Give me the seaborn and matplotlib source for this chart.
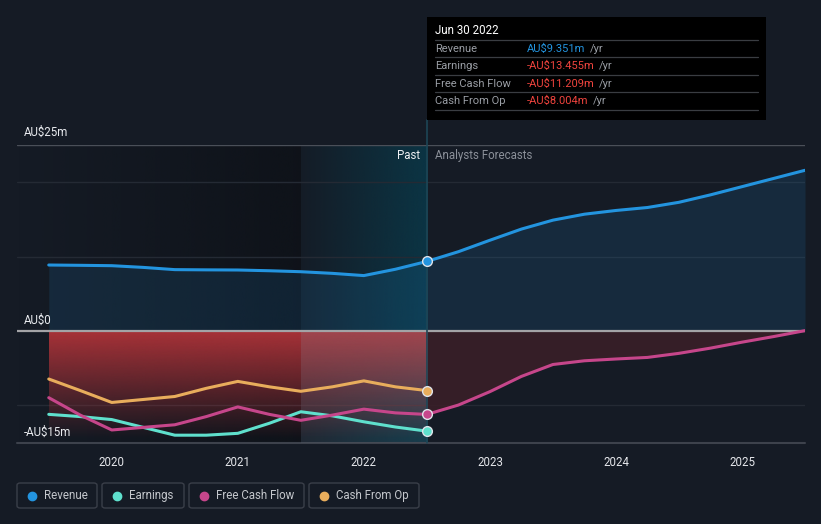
import numpy as np
import pandas as pd
import seaborn as sns
import matplotlib.pyplot as plt
from matplotlib.patches import FancyBboxPatch, Rectangle
from matplotlib.lines import Line2D
from matplotlib.colors import to_rgb

# ---- data (AU$ millions) ----
past_years = [2019.5, 2019.75, 2020.0, 2020.25, 2020.5, 2020.75, 2021.0,
              2021.25, 2021.5, 2021.75, 2022.0, 2022.25, 2022.5]
revenue_past = [8.87, 8.83, 8.78, 8.55, 8.25, 8.22, 8.2, 8.1, 7.97, 7.75, 7.45, 8.3, 9.351]
earnings_past = [-11.2, -11.5, -11.9, -12.95, -14.0, -14.0, -13.75, -12.4, -10.85, -11.4, -12.2, -12.9, -13.455]
fcf_past = [-8.96, -11.3, -13.3, -12.95, -12.6, -11.5, -10.2, -11.2, -12.0, -11.3, -10.5, -11.0, -11.209]
cfo_past = [-6.45, -8.0, -9.6, -9.2, -8.8, -7.7, -6.77, -7.5, -8.1, -7.5, -6.7, -7.5, -8.004]

fc_years = [2022.5, 2022.75, 2023.0, 2023.25, 2023.5, 2023.75, 2024.0,
            2024.25, 2024.5, 2024.75, 2025.0, 2025.25, 2025.5]
revenue_fc = [9.351, 10.66, 12.2, 13.7, 14.9, 15.7, 16.2, 16.6, 17.3, 18.3, 19.4, 20.5, 21.6]
fcf_fc = [-11.209, -9.95, -8.15, -6.1, -4.5, -4.0, -3.76, -3.55, -3.0, -2.3, -1.5, -0.75, 0.05]

year_ticks = [2020, 2021, 2022, 2023, 2024, 2025]
y_labels = {25: "AU$25m", 0: "AU$0", -15: "-AU$15m"}

tip_date = "Jun 30 2022"
tip_rows = [("Revenue", "AU$9.351m"), ("Earnings", "-AU$13.455m"),
            ("Free Cash Flow", "-AU$11.209m"), ("Cash From Op", "-AU$8.004m")]

series_names = ["Revenue", "Earnings", "Free Cash Flow", "Cash From Op"]
palette = {"Revenue": "#2394df", "Earnings": "#5fe0cd",
           "Free Cash Flow": "#c6468b", "Cash From Op": "#e8ad5c"}

BG = "#151b25"

sns.set_style("dark")
plt.rcParams["font.family"] = ["Roboto", "DejaVu Sans"]

W, H = 821, 524
fig = plt.figure(figsize=(W / 100, H / 100), dpi=100, facecolor=BG)


def fx(px):
    return px / W


def fy(py):
    return 1 - py / H


x0, x1 = 2019.248, 2025.5
y0, y1 = -15.05, 25
ax = fig.add_axes([fx(17), fy(443), fx(805) - fx(17), fy(145) - fy(443)])
ax.set_facecolor(BG)
for s in ax.spines.values():
    s.set_visible(False)
ax.grid(False)


def hgrad(color, a0, a1, n=256):
    arr = np.zeros((1, n, 4))
    arr[..., :3] = to_rgb(color)
    arr[0, :, 3] = np.linspace(a0, a1, n)
    return arr


def vgrad(color, a_top, a_bot, n=256):
    arr = np.zeros((n, 1, 4))
    arr[..., :3] = to_rgb(color)
    arr[:, 0, 3] = np.linspace(a_top, a_bot, n)
    return arr


# darker past background and teal highlight of the last year
ax.imshow(hgrad("#0d1016", 0.0, 0.75), extent=[x0, 2021.5, y0, y1],
          aspect="auto", zorder=0.2, interpolation="bicubic")
ax.imshow(hgrad("#0b3646", 0.05, 0.95), extent=[2021.5, 2022.5, y0, y1],
          aspect="auto", zorder=0.3, interpolation="bicubic")

# gridlines
for v in [20, 10, -10]:
    ax.axhline(v, color="#242a34", lw=1, zorder=0.5)
ax.axhline(25, color="#4a4f58", lw=1, zorder=0.5)
ax.axhline(y0, color="#3d424c", lw=1.5, zorder=0.5, clip_on=False)

# revenue area
all_rev_years = past_years + fc_years[1:]
all_rev = revenue_past + revenue_fc[1:]
ax.fill_between(all_rev_years, 0, all_rev, color="#2394df", alpha=0.13, lw=0, zorder=1)

# red gradient for past losses
ax.imshow(vgrad("#a83238", 1.0, 0.0), extent=[2019.5, 2022.5, -14.5, 0],
          aspect="auto", zorder=1.1, interpolation="bicubic")
ax.imshow(vgrad("#8a96a8", 0.2, 0.1), extent=[2021.5, 2022.5, y0, 0],
          aspect="auto", zorder=1.2, interpolation="bicubic")

# forecast negative FCF area
ax.fill_between(fc_years, 0, fcf_fc, color="#3b1f28", alpha=0.85, lw=0, zorder=1)

ax.axhline(0, color="#a3a3a6", lw=1.6, zorder=2)

# lines
rows = []
for name, yrs, vals in [("Revenue", all_rev_years, all_rev),
                        ("Earnings", past_years, earnings_past),
                        ("Free Cash Flow", past_years + fc_years[1:], fcf_past + fcf_fc[1:]),
                        ("Cash From Op", past_years, cfo_past)]:
    for yv, v in zip(yrs, vals):
        rows.append({"series": name, "year": yv, "value": v})
df = pd.DataFrame(rows)
sns.lineplot(data=df, x="year", y="value", hue="series", hue_order=series_names,
             palette=palette, lw=2.2, legend=False, ax=ax, zorder=3, sort=True)
for line in ax.get_lines():
    line.set_solid_capstyle("round")
    line.set_solid_joinstyle("round")

# markers at the last reported point
last = {"Revenue": revenue_past[-1], "Earnings": earnings_past[-1],
        "Free Cash Flow": fcf_past[-1], "Cash From Op": cfo_past[-1]}
for name, v in last.items():
    ax.plot([2022.5], [v], "o", ms=7, color=palette[name], mec="#dfe3ea", mew=1, zorder=5)

# vertical marker line up to the tooltip
ax.axvline(2022.5, ymin=0, ymax=(443 - 120) / (443 - 145), color="#1d4656",
           lw=1.2, zorder=2.5, clip_on=False)

ax.set_xlim(x0, x1)
ax.set_ylim(y0, y1)

# axes labels
ax.set_xlabel("")
ax.set_ylabel("")
ax.set_yticks([])
ax.set_xticks(year_ticks)
ax.set_xticklabels([str(t) for t in year_ticks])
ax.tick_params(axis="x", colors="#3d424c", length=4, width=1, pad=5, labelsize=8.3,
               labelcolor="#e4e6ea")

for v, lab in y_labels.items():
    py = {25: 132, 0: 320, -15: 432}[v]
    fig.text(fx(24), fy(py), lab, color="#e8eaee", fontsize=8.3, va="center", ha="left")

fig.text(fx(420), fy(156), "Past", color="#eef0f3", fontsize=8.3, va="center", ha="right")
fig.text(fx(435), fy(156), "Analysts Forecasts", color="#8b9099", fontsize=8.3,
         va="center", ha="left")

# tooltip
fig.patches.append(Rectangle((fx(427), fy(120)), fx(766) - fx(427), fy(17) - fy(120),
                             transform=fig.transFigure, facecolor="#000000",
                             edgecolor="none", zorder=10))
fig.text(fx(435), fy(31), tip_date, color="#ffffff", fontsize=8.3, va="center",
         ha="left", zorder=11)
row_y = [49, 66, 84, 101]
for py in [40, 57, 75, 92, 110]:
    fig.lines.append(Line2D([fx(435), fx(758)], [fy(py), fy(py)], transform=fig.transFigure,
                            color="#3a3d42", lw=0.9, zorder=11))
for (lab, val), py in zip(tip_rows, row_y):
    fig.text(fx(435), fy(py), lab, color="#9a9ea5", fontsize=8, va="center",
             ha="left", zorder=11)
    vcol = "#2394df" if not val.startswith("-") else "#f0443e"
    t = fig.text(fx(527), fy(py), val, color=vcol, fontsize=8, va="center",
                 ha="left", zorder=11)
    fig.add_artist(plt.Annotation("/yr", xy=(1, 0.5), xycoords=t, xytext=(3, 0),
                                  textcoords="offset points", color="#9a9ea5",
                                  fontsize=8, va="center", ha="left", zorder=11))

# legend boxes
legend_boxes = [(17, 97), (102, 184), (189, 304), (309, 419)]
for name, (bx0, bx1) in zip(series_names, legend_boxes):
    fig.patches.append(FancyBboxPatch((fx(bx0), fy(508)), fx(bx1) - fx(bx0), fy(483) - fy(508),
                                      boxstyle="round,pad=0,rounding_size=0.004",
                                      transform=fig.transFigure, facecolor="none",
                                      edgecolor="#3a3f49", lw=1))
    fig.lines.append(Line2D([fx(bx0 + 15)], [fy(495.5)], marker="o", ms=6,
                            color=palette[name], transform=fig.transFigure, lw=0))
    fig.text(fx(bx0 + 27), fy(495.5), name, color="#c4c7cc", fontsize=8.3,
             va="center", ha="left")

fig.savefig("out.png", dpi=100, facecolor=BG)
